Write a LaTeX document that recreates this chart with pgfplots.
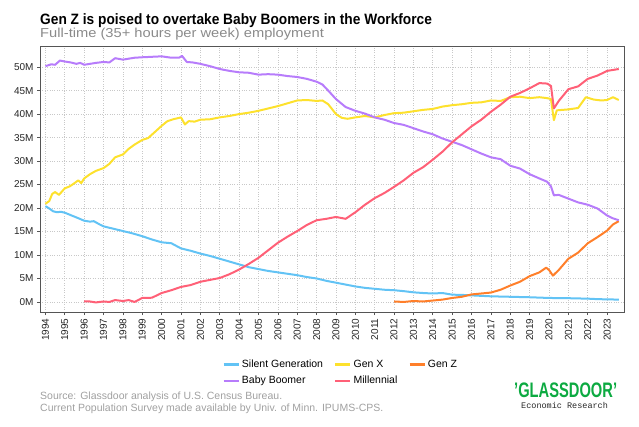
\documentclass[border=0pt]{standalone}
\usepackage{pgfplots}
\pgfplotsset{compat=1.18}
\usepackage{fontspec}
\setmainfont{Liberation Sans}
\newfontfamily\monofont{Liberation Mono}
\definecolor{cSilent}{HTML}{62C3F5}
\definecolor{cGenX}{HTML}{FDE12D}
\definecolor{cGenZ}{HTML}{FF7F2A}
\definecolor{cBoomer}{HTML}{B77CFB}
\definecolor{cMill}{HTML}{FF6077}
\definecolor{cGreen}{HTML}{0CAA41}
\definecolor{cAxis}{HTML}{555555}
\definecolor{cGrid}{HTML}{C8C8C8}
\definecolor{cSub}{HTML}{8A8A8A}
\definecolor{cSrc}{HTML}{A0A0A0}
\begin{document}
\begin{tikzpicture}
\useasboundingbox (0,0) rectangle (639pt,426pt);
\node[anchor=base west, inner sep=0pt, font=\fontsize{15}{18}\selectfont\bfseries] at (40pt,401pt) {\scalebox{0.915}[1]{Gen Z is poised to overtake Baby Boomers in the Workforce}};
\node[anchor=base west, inner sep=0pt, text=cSub, font=\fontsize{13}{15}\selectfont] at (40pt,388pt) {\scalebox{1.13}[1]{Full-time (35+ hours per week) employment}};
\begin{axis}[
  at={(40pt,114pt)}, anchor=south west,
  width=584pt, height=266pt, scale only axis,
  xmin=1993.72, xmax=2023.87, ymin=-2.14, ymax=54.5,
  xtick={1994,...,2023},
  ytick={0,5,...,50},
  yticklabels={0M,5M,10M,15M,20M,25M,30M,35M,40M,45M,50M},
  /pgf/number format/1000 sep={},
  /pgf/number format/assume math mode=true,
  xticklabel style={rotate=90, anchor=east, font=\fontsize{10}{12}\selectfont, text=black!85},
  yticklabel style={font=\fontsize{10}{12}\selectfont, text=black!85},
  tick align=outside, xtick pos=left, ytick pos=left,
  major tick length=3pt,
  tick style={cAxis, line width=0.6pt},
  axis line style={cAxis, line width=0.8pt},
  grid=major, major grid style={cGrid, dotted, line width=0.6pt},
  legend style={at={(0.515,-0.165)}, anchor=north, draw=none, fill=none,
    font=\fontsize{10.5}{12}\selectfont, row sep=3pt,
    /tikz/every even column/.append style={column sep=9pt}},
  legend columns=3, legend cell align=left,
  legend image code/.code={\draw[#1, line width=2.5pt] (0pt,0pt) -- (15pt,0pt);},
  every axis plot/.append style={line width=2pt, line join=round},
]
\addplot[cSilent] coordinates {
(1994.0,20.4) (1994.2,19.9) (1994.4,19.3) (1994.6,19.1) (1994.8,19.2) (1995.0,19.0) (1995.3,18.5) (1995.6,18.0) (1996.0,17.3) (1996.3,17.1) (1996.5,17.2) (1996.8,16.5) (1997.0,16.1) (1997.5,15.6) (1998.0,15.1) (1998.5,14.6) (1999.0,14.0) (1999.5,13.3) (2000.0,12.7) (2000.5,12.5) (2001.0,11.4) (2001.5,10.9) (2002.0,10.3) (2002.5,9.8) (2003.0,9.2) (2003.5,8.6) (2004.0,8.0) (2004.5,7.4) (2005.0,7.0) (2005.5,6.6) (2006.0,6.3) (2006.5,6.0) (2007.0,5.7) (2007.5,5.3) (2008.0,5.0) (2008.5,4.5) (2009.0,4.1) (2009.5,3.7) (2010.0,3.3) (2010.5,3.0) (2011.0,2.8) (2011.5,2.6) (2012.0,2.5) (2012.5,2.3) (2013.0,2.05) (2013.5,1.9) (2014.0,1.8) (2014.5,1.9) (2015.0,1.55) (2015.5,1.5) (2016.0,1.4) (2016.5,1.3) (2017.0,1.2) (2018.0,1.1) (2019.0,1.0) (2020.0,0.85) (2021.0,0.8) (2022.0,0.7) (2022.5,0.6) (2023.0,0.55) (2023.6,0.5)
};
\addlegendentry{Silent Generation}
\addplot[cGenX] coordinates {
(1994.0,20.9) (1994.2,21.5) (1994.35,23.0) (1994.5,23.4) (1994.7,22.8) (1995.0,24.2) (1995.25,24.6) (1995.5,25.3) (1995.7,25.9) (1995.85,25.3) (1996.0,26.3) (1996.3,27.2) (1996.6,27.9) (1997.0,28.5) (1997.3,29.4) (1997.6,30.8) (1998.0,31.4) (1998.3,32.6) (1998.6,33.5) (1999.0,34.5) (1999.3,34.9) (1999.6,36.0) (2000.0,37.5) (2000.3,38.5) (2000.6,38.9) (2001.0,39.3) (2001.2,37.8) (2001.4,38.5) (2001.7,38.4) (2002.0,38.8) (2002.5,38.9) (2003.0,39.3) (2003.5,39.6) (2004.0,40.0) (2004.5,40.3) (2005.0,40.7) (2005.5,41.2) (2006.0,41.7) (2006.5,42.3) (2007.0,42.9) (2007.5,43.0) (2008.0,42.8) (2008.3,42.9) (2008.6,42.1) (2009.0,40.0) (2009.3,39.2) (2009.6,39.0) (2010.0,39.3) (2010.5,39.6) (2011.0,39.3) (2011.5,39.8) (2012.0,40.2) (2012.5,40.3) (2013.0,40.6) (2013.5,40.9) (2014.0,41.1) (2014.5,41.6) (2015.0,41.9) (2015.5,42.1) (2016.0,42.4) (2016.5,42.5) (2017.0,42.9) (2017.5,42.8) (2018.0,43.6) (2018.5,43.7) (2019.0,43.4) (2019.5,43.6) (2019.9,43.4) (2020.1,43.2) (2020.25,38.7) (2020.4,40.8) (2021.0,41.0) (2021.5,41.3) (2021.9,43.6) (2022.3,43.1) (2022.7,42.9) (2023.0,43.0) (2023.3,43.6) (2023.6,43.0)
};
\addlegendentry{Gen X}
\addplot[cGenZ] coordinates {
(2012.0,0.1) (2012.5,0.0) (2013.0,0.2) (2013.5,0.1) (2014.0,0.3) (2014.5,0.5) (2015.0,0.85) (2015.5,1.1) (2016.0,1.6) (2016.5,1.8) (2017.0,2.0) (2017.5,2.6) (2018.0,3.5) (2018.5,4.3) (2019.0,5.5) (2019.5,6.3) (2019.85,7.3) (2020.0,6.8) (2020.2,5.6) (2020.5,6.8) (2021.0,9.2) (2021.5,10.5) (2022.0,12.5) (2022.5,13.8) (2023.0,15.2) (2023.3,16.5) (2023.6,17.2)
};
\addlegendentry{Gen Z}
\addplot[cBoomer] coordinates {
(1994.0,50.2) (1994.3,50.6) (1994.5,50.5) (1994.75,51.4) (1995.0,51.2) (1995.3,51.0) (1995.6,50.7) (1995.8,50.9) (1996.0,50.5) (1996.3,50.7) (1996.6,50.9) (1997.0,51.1) (1997.3,51.0) (1997.6,51.9) (1998.0,51.6) (1998.3,51.8) (1998.6,52.0) (1999.0,52.1) (1999.5,52.2) (2000.0,52.3) (2000.5,52.0) (2000.9,52.0) (2001.05,52.4) (2001.3,51.1) (2001.6,51.0) (2002.0,50.7) (2002.5,50.2) (2003.0,49.6) (2003.5,49.2) (2004.0,48.9) (2004.5,48.8) (2005.0,48.4) (2005.5,48.5) (2006.0,48.4) (2006.5,48.1) (2007.0,47.9) (2007.5,47.5) (2008.0,46.9) (2008.3,46.3) (2008.6,45.0) (2009.0,43.2) (2009.5,41.5) (2010.0,40.7) (2010.5,40.1) (2011.0,39.3) (2011.5,38.8) (2012.0,38.1) (2012.5,37.7) (2013.0,37.0) (2013.5,36.3) (2014.0,35.7) (2014.5,34.8) (2015.0,34.1) (2015.5,33.4) (2016.0,32.5) (2016.5,31.6) (2017.0,30.8) (2017.5,30.4) (2018.0,29.0) (2018.5,28.4) (2019.0,27.2) (2019.5,26.3) (2019.9,25.6) (2020.1,24.6) (2020.25,22.7) (2020.5,22.8) (2021.0,22.0) (2021.5,21.2) (2022.0,20.7) (2022.5,19.9) (2023.0,18.4) (2023.3,17.8) (2023.6,17.4)
};
\addlegendentry{Baby Boomer}
\addplot[cMill] coordinates {
(1996.0,0.1) (1996.3,0.1) (1996.6,-0.1) (1997.0,0.1) (1997.3,0.0) (1997.6,0.4) (1998.0,0.2) (1998.3,0.4) (1998.6,0.0) (1999.0,0.85) (1999.5,0.9) (2000.0,1.9) (2000.5,2.5) (2001.0,3.2) (2001.5,3.6) (2002.0,4.3) (2002.5,4.7) (2003.0,5.1) (2003.5,5.9) (2004.0,6.9) (2004.5,8.1) (2005.0,9.4) (2005.5,11.0) (2006.0,12.6) (2006.5,13.9) (2007.0,15.1) (2007.5,16.4) (2008.0,17.4) (2008.5,17.7) (2009.0,18.1) (2009.5,17.7) (2010.0,19.1) (2010.5,20.7) (2011.0,22.1) (2011.5,23.2) (2012.0,24.5) (2012.5,25.9) (2013.0,27.5) (2013.5,28.7) (2014.0,30.3) (2014.5,32.0) (2015.0,34.0) (2015.5,35.7) (2016.0,37.4) (2016.5,38.8) (2017.0,40.5) (2017.5,42.0) (2018.0,43.7) (2018.5,44.5) (2019.0,45.5) (2019.5,46.6) (2019.9,46.5) (2020.1,46.0) (2020.25,41.2) (2020.5,42.8) (2021.0,45.3) (2021.5,45.9) (2022.0,47.5) (2022.5,48.2) (2023.0,49.2) (2023.3,49.4) (2023.6,49.6)
};
\addlegendentry{Millennial}
\end{axis}
\node[anchor=base west, inner sep=0pt, text=cSrc, font=\fontsize{10.5}{12}\selectfont] at (40pt,27pt) {Source: Glassdoor analysis of U.S. Census Bureau.};
\node[anchor=base west, inner sep=0pt, text=cSrc, font=\fontsize{10.5}{12}\selectfont] at (40pt,15pt) {Current Population Survey made available by Univ. of Minn. IPUMS-CPS.};
\node[anchor=base west, inner sep=0pt, text=cGreen, font=\fontsize{21}{24}\selectfont\bfseries] at (514pt,29pt) {\scalebox{0.7}[1]{’GLASSDOOR’}};
\node[anchor=base west, inner sep=0pt, text=black!85, font=\fontsize{8.5}{10}\selectfont\monofont] at (521pt,18pt) {Economic Research};
\end{tikzpicture}
\end{document}
